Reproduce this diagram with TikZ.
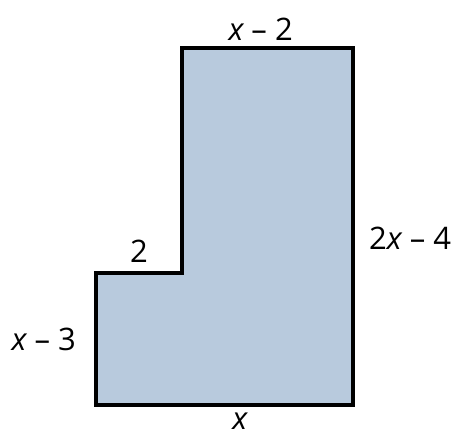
\documentclass[tikz,border=0pt]{standalone}
\usepackage{fontspec}
\setmainfont{Open Sans}
\usepackage{xcolor}
\usetikzlibrary{positioning,calc}
\definecolor{shapeBlue}{HTML}{B8CADD}

\begin{document}
\begin{tikzpicture}[x=1pt,y=-1pt,font=\fontsize{31}{36}\selectfont,
      edge/.style={draw=black,line width=3.4pt,fill=shapeBlue,line join=miter},
      dim/.style={inner sep=2pt}]
    \useasboundingbox (0,0) rectangle (454,438);
    \coordinate (tl) at (182,48);
    \coordinate (tr) at (353,48);
    \coordinate (br) at (353,405);
    \coordinate (bl) at (96,405);
    \coordinate (sl) at (96,273);
    \coordinate (si) at (182,273);
    \path[edge] (tl) -- (tr) -- (br) -- (bl) -- (sl) -- (si) -- cycle;

    \node[dim,above=5pt of $(tl)!0.46!(tr)$] (top) {\itshape x\upshape{} – 2};
    \node[dim,right=14pt of $(tr)!0.532!(br)$] (right) {2\itshape x\upshape{} – 4};
    \node[dim,above=8pt of $(sl)!0.5!(si)$] (step) {2};
    \node[dim,left=18pt of $(sl)!0.5!(bl)$] (left) {\itshape x\upshape{} – 3};
    \node[inner sep=0pt,below=8pt of $(bl)!0.56!(br)$] (bottom) {\itshape x};
  \end{tikzpicture}
\end{document}
